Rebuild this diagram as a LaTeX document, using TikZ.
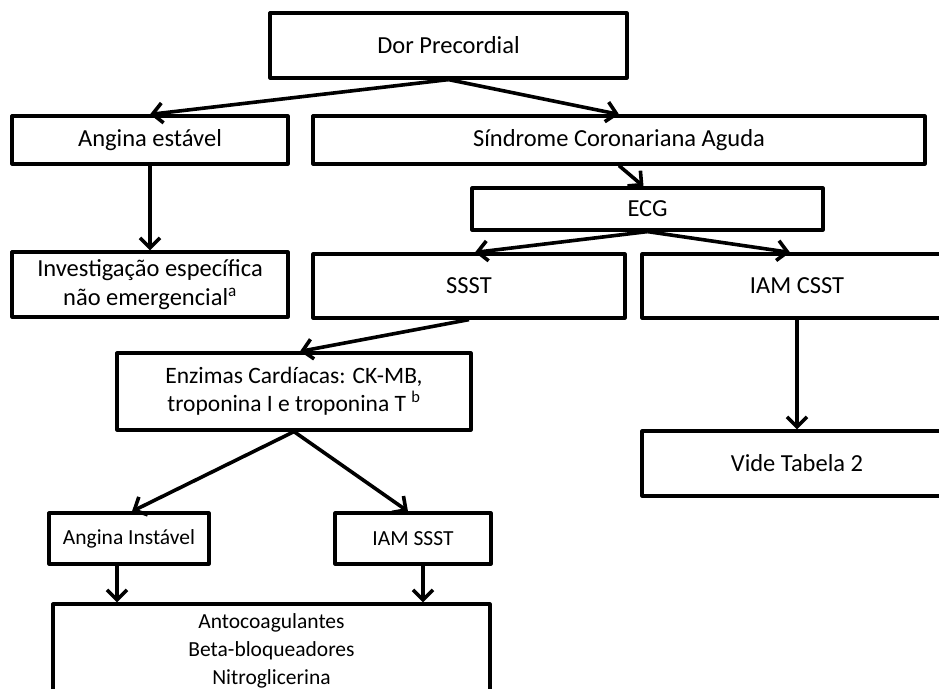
\documentclass[tikz,border=0pt]{standalone}
\usepackage{fontspec}
\setmainfont{Carlito}
\usetikzlibrary{arrows.meta}

\begin{document}
\begin{tikzpicture}[x=1pt, y=-1pt,
  box/.style={draw, line width=3.2pt, line join=round, inner sep=0pt,
    align=center, font=\fontsize{24.5}{28.5}\selectfont},
  lowtxt/.style={font=\fontsize{21.5}{28}\selectfont},
  arr/.style={-{Straight Barb[length=10pt, width=20pt]}, line width=3.6pt}]

% Page frame (boxes on the right and bottom run past it)
\useasboundingbox (0,0) rectangle (939,688);
\clip (0,0) rectangle (939,688);

% First level
\node[box, minimum width=357pt, minimum height=65pt] (dor) at (448.5,45.5) {Dor Precordial};
\node[box, minimum width=276pt, minimum height=48pt] (angest) at (150,140) {Angina estável};
\node[box, minimum width=612pt, minimum height=48pt] (sca) at (619,140) {Síndrome Coronariana Aguda};

% ECG and its two branches
\node[box, minimum width=351pt, minimum height=42pt] (ecg) at (647.5,209) {ECG};
\node[box, minimum width=276pt, minimum height=65pt] (invest) at (150,284.5)
  {\raisebox{-2pt}{Investigação específica}\\\raisebox{-2pt}{não emergencial\textsuperscript{a}}};
\node[box, minimum width=312pt, minimum height=64pt] (ssst) at (469,286) {\raisebox{-4pt}{SSST}};
\node[box, minimum width=310pt, minimum height=64pt] (iamcsst) at (797,286) {\raisebox{-4pt}{IAM CSST}};

% Enzymes, outcomes and treatment
\node[box, font=\fontsize{23.5}{28}\selectfont, minimum width=354pt, minimum height=77pt] (enz) at (294,391.5)
  {Enzimas Cardíacas: CK-MB,\\troponina I e troponina T \textsuperscript{b}};
\node[box, minimum width=310pt, minimum height=65pt] (vide) at (797,463.5) {\raisebox{-2pt}{Vide Tabela 2}};
\node[box, lowtxt, minimum width=160pt, minimum height=51pt] (angin) at (129,538.5) {Angina Instável};
\node[box, lowtxt, minimum width=156pt, minimum height=51pt] (iamssst) at (413,538.5) {IAM SSST};
\node[box, lowtxt, minimum width=437pt, minimum height=94pt] (trat) at (271.5,651)
  {Antocoagulantes\\Beta-bloqueadores\\Nitroglicerina};

% Arrows
\draw[arr] (dor.south) -- (angest.north);
\draw[arr] (dor.south) -- (sca.north);
\draw[arr] (angest.south) -- (invest.north);
\draw[arr] (sca.south) -- ([xshift=-4pt]ecg.north);
\draw[arr] (ecg.south) -- ([xshift=6pt]ssst.north);
\draw[arr] (ecg.south) -- ([xshift=-7pt]iamcsst.north);
\draw[arr] (ssst.south) -- ([xshift=6pt]enz.north);
\draw[arr] (iamcsst.south) -- (vide.north);
\draw[arr] (enz.south) -- ([xshift=3pt]angin.north);
\draw[arr] (enz.south) -- ([xshift=-5pt]iamssst.north);
\draw[arr] ([xshift=-12pt]angin.south) -- ([xshift=-12pt]angin.south |- trat.north);
\draw[arr] ([xshift=10pt]iamssst.south) -- ([xshift=10pt]iamssst.south |- trat.north);

\end{tikzpicture}
\end{document}
